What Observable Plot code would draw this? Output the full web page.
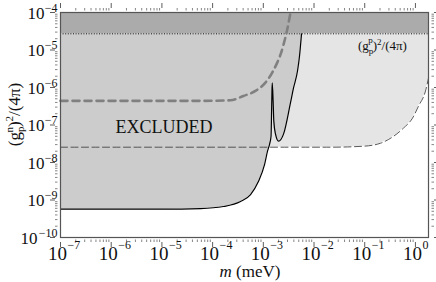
<!DOCTYPE html>
<html><head><meta charset="utf-8">
<script src="https://cdn.jsdelivr.net/npm/d3@7"></script>
<script src="https://cdn.jsdelivr.net/npm/@observablehq/plot@0.6"></script>
<style>
body{margin:0;background:#fff;}
svg, svg text{font-family:'Liberation Serif','Times New Roman','DejaVu Serif',serif !important;}
</style>
</head><body><div id="chart"></div>
<script>
// Solid black curve (lower boundary of the excluded region)
const solidM = [1e-7, 1e-6, 1e-5, 5.8e-5, 1.64e-4, 3.55e-4, 5.6e-4, 8.0e-4, 1.06e-3, 1.21e-3, 1.33e-3, 1.42e-3, 1.45e-3, 1.48e-3, 1.50e-3, 1.56e-3, 1.61e-3, 1.74e-3, 2.0e-3, 2.5e-3, 3.43e-3, 3.94e-3, 4.73e-3, 5.18e-3, 5.67e-3];
const solidG = [5.7e-10, 5.7e-10, 5.7e-10, 5.9e-10, 6.7e-10, 9.1e-10, 1.4e-9, 3.1e-9, 8.9e-9, 2.0e-8, 3.1e-8, 5.0e-8, 1.7e-7, 8.1e-7, 1.33e-6, 4.4e-7, 1.27e-7, 5.7e-8, 3.7e-8, 5.7e-8, 3.9e-7, 9.7e-7, 2.8e-6, 7.0e-6, 2.7e-5];
// Thick gray dashed curve
const thickM = [1e-7, 5.8e-5, 2.25e-4, 4.06e-4, 7.0e-4, 1.10e-3, 1.50e-3, 1.88e-3, 2.18e-3, 2.5e-3, 2.87e-3, 3.21e-3, 3.44e-3];
const thickG = [4.4e-7, 4.4e-7, 4.57e-7, 5.95e-7, 8.1e-7, 1.35e-6, 2.5e-6, 4.6e-6, 7.5e-6, 1.39e-5, 2.9e-5, 6.1e-5, 1e-4];
// Thin dashed curve
const thinM = [1e-7, 0.0211, 0.0946, 0.205, 0.370, 0.582, 0.877, 1.15, 1.58, 1.81];
const thinG = [2.56e-8, 2.56e-8, 2.72e-8, 3.27e-8, 5.0e-8, 8.3e-8, 1.53e-7, 3.2e-7, 8.1e-7, 1.8e-6];
// (g_p^p)^2/(4pi) limit
const gppLimit = 2.7e-5;
const xDomain = [1e-7, 1.81];
const yDomain = [1e-10, 1e-4];
const xTickExps = [-7, -6, -5, -4, -3, -2, -1, 0];
const yTickExps = [-10, -9, -8, -7, -6, -5, -4];
const excludedLabel = {m: 1.1e-5, g: 8.6e-8, text: "EXCLUDED"};
const gppLabel = {m: 0.075, g: 1.0e-5};

const FONT = "'Liberation Serif','Times New Roman','DejaVu Serif',serif";

const solid = solidM.map((m, i) => ({m, g: solidG[i]}));
const thick = thickM.map((m, i) => ({m, g: thickG[i]}));
const thin = thinM.map((m, i) => ({m, g: thinG[i]}));

function minors(lo, hi) {
  const out = [];
  for (let e = lo; e < hi; e++) for (let k = 2; k <= 9; k++) out.push(k * 10 ** e);
  return out;
}
const xMajor = xTickExps.map(e => 10 ** e);
const yMajor = yTickExps.map(e => 10 ** e);
const xMinor = minors(-7, 1).filter(v => v <= xDomain[1]);
const yMinor = minors(-10, -4);
const fmtExp = e => (e < 0 ? "\u2212" + (-e) : String(e));

const tickStroke = "#333";
const axisTicks = [];
for (const anchor of ["bottom", "top"]) {
  axisTicks.push(Plot.axisX({anchor, ticks: xMajor, tickSize: 5, inset: -5, tickFormat: () => "", label: null, stroke: tickStroke, strokeWidth: 0.8}));
  axisTicks.push(Plot.axisX({anchor, ticks: xMinor, tickSize: 2.5, inset: -2.5, tickFormat: () => "", label: null, stroke: tickStroke, strokeWidth: 0.6}));
}
for (const anchor of ["left", "right"]) {
  axisTicks.push(Plot.axisY({anchor, ticks: yMajor, tickSize: 5, inset: -5, tickFormat: () => "", label: null, stroke: tickStroke, strokeWidth: 0.8}));
  axisTicks.push(Plot.axisY({anchor, ticks: yMinor, tickSize: 2.5, inset: -2.5, tickFormat: () => "", label: null, stroke: tickStroke, strokeWidth: 0.6}));
}

const svg = Plot.plot({
  width: 436, height: 282,
  marginLeft: 60, marginRight: 8, marginTop: 12, marginBottom: 45,
  style: {fontFamily: FONT, background: "white", color: "black"},
  x: {type: "log", domain: xDomain, axis: null},
  y: {type: "log", domain: yDomain, axis: null},
  marks: [
    Plot.areaY(thin, {x: "m", y1: "g", y2: gppLimit, fill: "#e5e5e5", curve: "monotone-x"}),
    Plot.areaY(solid, {x: "m", y1: "g", y2: gppLimit, fill: "#cccccc", curve: "monotone-x"}),
    Plot.areaY(xDomain, {x: d => d, y1: gppLimit, y2: yDomain[1], fill: "#ababab"}),
    Plot.ruleY([gppLimit], {stroke: "#111", strokeWidth: 1, strokeDasharray: "1,1.6"}),
    Plot.line(thin, {x: "m", y: "g", stroke: "#444", strokeWidth: 0.9, strokeDasharray: "7,3.5", curve: "monotone-x"}),
    Plot.line(thick, {x: "m", y: "g", stroke: "#808080", strokeWidth: 2.6, strokeDasharray: "7,5", curve: "monotone-x"}),
    Plot.line(solid, {x: "m", y: "g", stroke: "#000", strokeWidth: 1.2, curve: "monotone-x"}),
    Plot.text([excludedLabel], {x: "m", y: "g", text: "text", fontSize: 18, fontFamily: FONT, textAnchor: "middle", fill: "#111"}),
    ...axisTicks,
    Plot.frame({stroke: "#555", strokeWidth: 1.2}),
    // x tick labels
    Plot.text(xTickExps, {x: e => 10 ** e, frameAnchor: "bottom", text: () => "10", fontSize: 19, fontFamily: FONT, textAnchor: "middle", lineAnchor: "bottom", dx: -3, dy: 22, fill: "#111"}),
    Plot.text(xTickExps, {x: e => 10 ** e, frameAnchor: "bottom", text: fmtExp, fontSize: 12, fontFamily: FONT, textAnchor: "start", lineAnchor: "bottom", dx: 7, dy: 11, fill: "#111"}),
    // y tick labels
    Plot.text(yTickExps, {y: e => 10 ** e, frameAnchor: "left", text: fmtExp, fontSize: 12, fontFamily: FONT, textAnchor: "end", lineAnchor: "bottom", dx: -3, dy: -1, fill: "#111"}),
    Plot.text(yTickExps.filter(e => e > -10), {y: e => 10 ** e, frameAnchor: "left", text: () => "10", fontSize: 17, fontFamily: FONT, textAnchor: "end", lineAnchor: "bottom", dx: -16, dy: 6, fill: "#111"}),
    Plot.text(yTickExps.filter(e => e <= -10), {y: e => 10 ** e, frameAnchor: "left", text: () => "10", fontSize: 17, fontFamily: FONT, textAnchor: "end", lineAnchor: "bottom", dx: -23, dy: 6, fill: "#111"})
  ]
});

const sx = svg.scale("x"), sy = svg.scale("y");
const root = d3.select(svg);

// y-axis title
const yt = root.append("text")
  .attr("transform", `translate(20,${(sy.apply(yDomain[0]) + sy.apply(yDomain[1])) / 2 - 10}) rotate(-90)`)
  .attr("text-anchor", "middle").attr("font-size", 17).attr("font-family", FONT).attr("fill", "#111");
yt.append("tspan").text("(g");
yt.append("tspan").attr("font-size", 11).attr("dy", 4).text("p");
yt.append("tspan").attr("font-size", 11).attr("dx", -6).attr("dy", -11).text("n");
yt.append("tspan").attr("dy", 7).text(")");
yt.append("tspan").attr("font-size", 11).attr("dy", -7).text("2");
yt.append("tspan").attr("dy", 7).text("/(4\u03c0)");

// x-axis title
const xt = root.append("text")
  .attr("x", (sx.apply(xDomain[0]) + sx.apply(xDomain[1])) / 2 + 6)
  .attr("y", 277).attr("text-anchor", "middle").attr("font-size", 17).attr("font-family", FONT).attr("fill", "#111");
xt.append("tspan").attr("font-style", "italic").text("m");
xt.append("tspan").text(" (meV)");

// (g_p^p)^2/(4pi) label
const gt = root.append("text")
  .attr("x", sx.apply(gppLabel.m)).attr("y", sy.apply(gppLabel.g))
  .attr("text-anchor", "start").attr("font-size", 13).attr("font-family", FONT).attr("fill", "#111");
gt.append("tspan").text("(g");
gt.append("tspan").attr("font-size", 9).attr("dy", 4.5).text("p");
gt.append("tspan").attr("font-size", 9).attr("dx", -5).attr("dy", -11).text("p");
gt.append("tspan").attr("dy", 6.5).text(")");
gt.append("tspan").attr("font-size", 9).attr("dy", -5).text("2");
gt.append("tspan").attr("dy", 5).text("/(4\u03c0)");

document.getElementById("chart").appendChild(svg);
</script>
</body></html>
